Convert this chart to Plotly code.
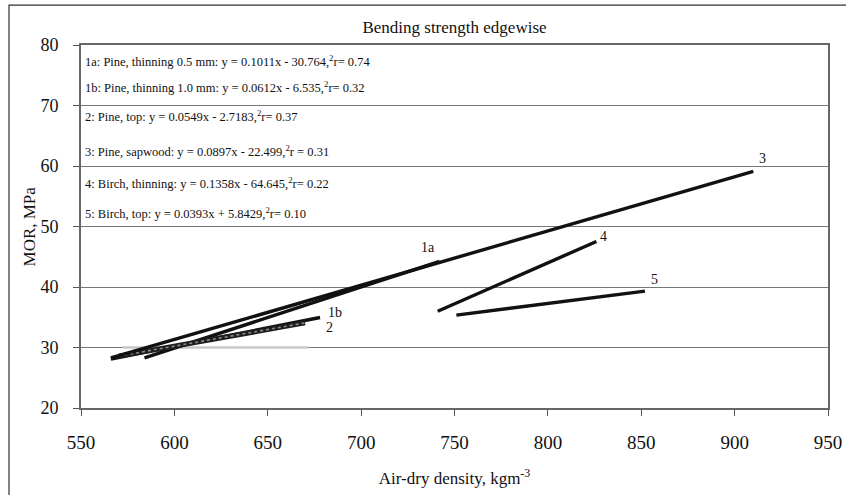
import plotly.graph_objects as go

# ---- data ----
series_names = ["1a", "1b", "2", "3", "4", "5"]
slopes = [0.1011, 0.0612, 0.0549, 0.0897, 0.1358, 0.0393]
intercepts = [-30.764, -6.535, -2.7183, -22.499, -64.645, 5.8429]
x_start = [584, 566, 570, 566, 741, 751]
x_end = [742, 678, 670, 910, 826, 852]
label_x = [736, 686, 683, 915, 830, 857]
label_y = [46.6, 35.8, 33.3, 61.2, 48.4, 41.2]

ref_line_x = [572, 672]
ref_line_y = [30, 30]

equations = [
    "1a: Pine, thinning 0.5 mm: y = 0.1011x - 30.764,<sup>2</sup>r= 0.74",
    "1b: Pine, thinning 1.0 mm: y = 0.0612x - 6.535,<sup>2</sup>r= 0.32",
    "2: Pine, top: y = 0.0549x - 2.7183,<sup>2</sup>r= 0.37",
    "3: Pine, sapwood: y = 0.0897x - 22.499,<sup>2</sup>r = 0.31",
    "4: Birch, thinning: y = 0.1358x - 64.645,<sup>2</sup>r= 0.22",
    "5: Birch, top: y = 0.0393x + 5.8429,<sup>2</sup>r= 0.10",
]
eq_y = [77.4, 73.1, 68.3, 62.5, 57.2, 52.2]

x_ticks = [550, 600, 650, 700, 750, 800, 850, 900, 950]
y_ticks = [20, 30, 40, 50, 60, 70, 80]

FONT = "Liberation Serif, Times New Roman, serif"

fig = go.Figure()

# light gray segment at 30
fig.add_trace(go.Scatter(x=ref_line_x, y=ref_line_y, mode="lines",
                         line=dict(color="#c8c8c8", width=2.5),
                         showlegend=False, hoverinfo="skip"))

for i, name in enumerate(series_names):
    xs = [x_start[i], x_end[i]]
    ys = [slopes[i] * v + intercepts[i] for v in xs]
    if name == "2":
        fig.add_trace(go.Scatter(x=xs, y=ys, mode="lines",
                                 line=dict(color="#1e1e1e", width=5),
                                 showlegend=False, hoverinfo="skip"))
        fig.add_trace(go.Scatter(x=xs, y=ys, mode="lines",
                                 line=dict(color="#8a8a8a", width=1.6, dash="dot"),
                                 showlegend=False, hoverinfo="skip"))
    else:
        fig.add_trace(go.Scatter(x=xs, y=ys, mode="lines",
                                 line=dict(color="#111111", width=3.4),
                                 showlegend=False, hoverinfo="skip"))
    fig.add_annotation(x=label_x[i], y=label_y[i], text=name, showarrow=False,
                       font=dict(family=FONT, size=14, color="#111"),
                       xanchor="center", yanchor="middle")

for txt, yy in zip(equations, eq_y):
    fig.add_annotation(x=0.004, y=yy, text=txt, showarrow=False, xref="paper", yref="y",
                       xanchor="left", yanchor="middle", borderpad=0,
                       font=dict(family=FONT, size=12.5, color="#111"))

# y-axis title
fig.add_annotation(x=-0.0683, y=0.5, xref="paper", yref="paper", text="MOR, MPa",
                   textangle=-90, showarrow=False, xanchor="center", yanchor="middle",
                   font=dict(family=FONT, size=17, color="#111"))

# outer chart border
fig.add_shape(type="rect", xref="paper", yref="paper",
              x0=-0.0964, x1=1.03, y0=-0.25, y1=1.110,
              line=dict(color="#333", width=1.2), layer="below")

fig.update_layout(
    width=846, height=495,
    margin=dict(l=81, r=18, t=45, b=87),
    paper_bgcolor="white", plot_bgcolor="white",
    font=dict(family=FONT, color="#111"),
    title=dict(text="Bending strength edgewise", x=0.5, xref="paper",
               y=1 - 27 / 495, yref="container", yanchor="middle",
               font=dict(family=FONT, size=17, color="#111")),
    xaxis=dict(range=[550, 950], tickvals=x_ticks, showgrid=False, zeroline=False,
               automargin=False,
               ticks="outside", ticklen=6, tickcolor="#555", tickwidth=1,
               ticklabelstandoff=10,
               showline=True, linecolor="#666", linewidth=2, mirror=True,
               tickfont=dict(family=FONT, size=19, color="#111"),
               title=dict(text="Air-dry density, kgm<sup>-3</sup>", standoff=20,
                          font=dict(family=FONT, size=17, color="#111"))),
    yaxis=dict(range=[20, 80], tickvals=y_ticks, showgrid=True, gridcolor="#777",
               gridwidth=1, zeroline=False, automargin=False,
               ticks="outside", ticklen=6, tickcolor="#555", tickwidth=1,
               ticklabelstandoff=11,
               showline=True, linecolor="#666", linewidth=2, mirror=True,
               tickfont=dict(family=FONT, size=18, color="#111")),
)

fig.write_html("out.html",
               config={"displayModeBar": False},
               post_script="document.body.style.margin='0';document.body.style.overflow='hidden';")
